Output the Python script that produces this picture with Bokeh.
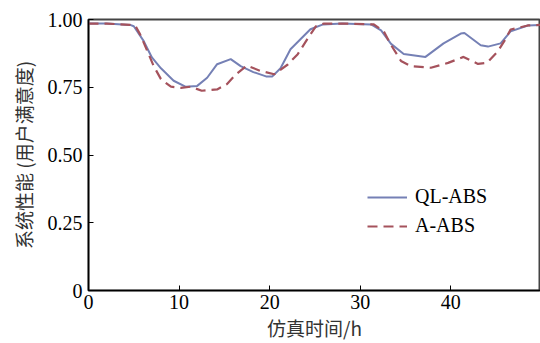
from bokeh.plotting import figure
from bokeh.models import FixedTicker, Range1d, Legend, LegendItem
from bokeh.embed import file_html
from bokeh.resources import INLINE

ql_x = [0, 2, 4.6, 5.0, 6.1, 7.0, 8.0, 9.4, 10.7, 12.0, 13.1, 14.2, 15.7, 16.8, 18.2, 19.6, 20.3,
        21.2, 22.3, 23.4, 24.5, 25.9, 28, 31.2, 32.3, 33.4, 34.8, 37.2, 39.2, 41.1, 41.5, 43.3,
        44.1, 45.5, 46.6, 48.5, 49.9]
ql_y = [0.985, 0.985, 0.98, 0.975, 0.92, 0.86, 0.82, 0.774, 0.752, 0.755, 0.785, 0.835, 0.854,
        0.828, 0.806, 0.79, 0.79, 0.82, 0.89, 0.927, 0.964, 0.982, 0.985, 0.982, 0.96, 0.91,
        0.873, 0.862, 0.912, 0.948, 0.95, 0.905, 0.9, 0.912, 0.956, 0.978, 0.98]

a_x = [0, 2, 4.6, 5.2, 5.7, 6.5, 7.2, 8.0, 9.1, 10.2, 11.3, 12.5, 14.2, 15.3, 16.2, 17.5, 19.0,
       20.5, 22.0, 23.1, 24.2, 25.1, 26.0, 28, 31.5, 32.6, 33.4, 34.5, 35.6, 37.8, 39.7, 41.4,
       43.0, 44.0, 45.2, 45.9, 46.6, 48.5, 49.9]
a_y = [0.985, 0.985, 0.98, 0.975, 0.945, 0.883, 0.828, 0.78, 0.752, 0.748, 0.752, 0.737, 0.742,
       0.762, 0.795, 0.83, 0.81, 0.798, 0.834, 0.872, 0.93, 0.975, 0.985, 0.985, 0.982, 0.956,
       0.906, 0.847, 0.828, 0.822, 0.84, 0.862, 0.836, 0.84, 0.883, 0.92, 0.963, 0.978, 0.98]

x_ticks = [0, 10, 20, 30, 40]
y_ticks = [0, 0.25, 0.5, 0.75, 1.0]
y_labels = {0: "0", 0.25: "0.25", 0.5: "0.50", 0.75: "0.75", 1.0: "1.00"}

p = figure(width=540, height=343, output_backend="svg", toolbar_location=None,
           x_range=Range1d(0, 49.9), y_range=Range1d(0, 1.0),
           min_border_left=88, min_border_right=0, min_border_top=19, min_border_bottom=51)
p.background_fill_color = "white"
p.border_fill_color = "white"
p.grid.visible = False
p.outline_line_color = "#444444"
p.outline_line_width = 2

serif = "Liberation Serif"
cjk = "Noto Sans CJK SC"

for ax in (p.xaxis[0], p.yaxis[0]):
    ax.axis_line_color = "black"
    ax.axis_line_width = 1.5
    ax.major_tick_in = 5
    ax.major_tick_out = 0
    ax.minor_tick_line_color = None
    ax.major_tick_line_color = "black"
    ax.major_label_text_font = serif
    ax.major_label_text_font_size = "20px"
    ax.major_label_text_color = "black"
    ax.axis_label_text_font = cjk
    ax.axis_label_text_font_size = "19px"
    ax.axis_label_text_font_style = "normal"
    ax.axis_label_text_color = "#333333"

p.xaxis.ticker = FixedTicker(ticks=x_ticks)
p.yaxis.ticker = FixedTicker(ticks=y_ticks)
p.yaxis.major_label_overrides = y_labels
p.xaxis.major_label_standoff = 4
p.yaxis.major_label_standoff = 6
p.xaxis.axis_label = "仿真时间/h"
p.yaxis.axis_label = "系统性能 (用户满意度)"
p.xaxis.axis_label_standoff = 2
p.yaxis.axis_label_standoff = 8

r1 = p.line(ql_x, ql_y, line_color="#7580b5", line_width=2)
r2 = p.line(a_x, a_y, line_color="#a5525c", line_width=2.2, line_dash="10 6")

legend = Legend(items=[LegendItem(label="QL-ABS", renderers=[r1]),
                       LegendItem(label="A-ABS", renderers=[r2])],
                location=(279, 53), padding=0, margin=0, spacing=6,
                glyph_width=40, glyph_height=20, label_height=20, label_standoff=8,
                border_line_color=None, background_fill_alpha=0,
                label_text_font=serif, label_text_font_size="20px", label_text_color="black")
p.add_layout(legend, "center")

open("out.html", "w").write(file_html(p, INLINE))
